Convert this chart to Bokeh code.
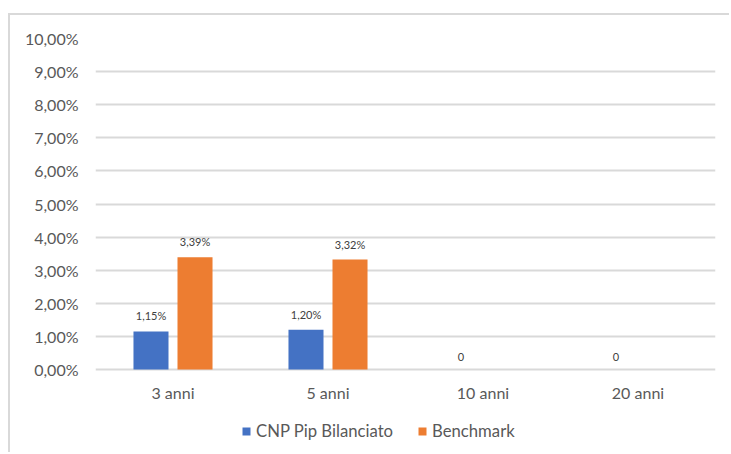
import math
from bokeh.plotting import figure
from bokeh.models import (ColumnDataSource, FactorRange, FixedTicker, CustomJSTickFormatter,
                          LabelSet, Legend, LegendItem, Range1d)
from bokeh.core.properties import value
from bokeh.transform import dodge
from bokeh.embed import file_html
from bokeh.resources import INLINE

categories = ["3 anni", "5 anni", "10 anni", "20 anni"]
cnp_values = [1.15, 1.20, 0.0, 0.0]
bench_values = [3.39, 3.32, float("nan"), float("nan")]
y_ticks = [0, 1, 2, 3, 4, 5, 6, 7, 8, 9, 10]
series_names = ["CNP Pip Bilanciato", "Benchmark"]


def fmt(v):
    if v is None or (isinstance(v, float) and math.isnan(v)):
        return ""
    if v == 0:
        return "0"
    return ("%.2f" % v).replace(".", ",") + "%"


src = ColumnDataSource(dict(
    cat=categories,
    cnp=cnp_values,
    bench=bench_values,
    cnp_lab=[fmt(v) for v in cnp_values],
    bench_lab=[fmt(v) for v in bench_values],
    zero=[0] * len(categories),
))

FONT = "Lato"
GRID = "#d9d9d9"
TXT = "#595959"

# frame: top at 10%, extends below 0% to hold category labels and legend
FRAME_H = 416
PX_PER_UNIT = 33.1
y_low = -(FRAME_H - 10 * PX_PER_UNIT) / PX_PER_UNIT

p = figure(x_range=FactorRange(*categories), y_range=Range1d(y_low, 10),
           width=721, height=439, output_backend="svg", toolbar_location=None,
           min_border_left=85, min_border_right=16, min_border_top=23, min_border_bottom=0)
p.styles = {"border-top": "2px solid #d9d9d9", "border-left": "2px solid #d9d9d9",
            "margin-top": "13px", "margin-left": "8px"}
p.outline_line_color = None
p.x_range.range_padding = 0
p.x_range.factor_padding = 0

off = 0.142
w = 0.226
r1 = p.vbar(x=dodge("cat", -off, range=p.x_range), top="cnp", width=w, bottom=0,
            source=src, fill_color="#4472C4", line_color=None)
r2 = p.vbar(x=dodge("cat", off, range=p.x_range), top="bench", width=w, bottom=0,
            source=src, fill_color="#ED7D31", line_color=None)

for col, lab, o in (("cnp", "cnp_lab", -off), ("bench", "bench_lab", off)):
    ls = LabelSet(x=dodge("cat", o, range=p.x_range), y=col, text=lab, source=src,
                  y_offset=9, text_align="center", text_baseline="bottom",
                  text_font=value(FONT), text_font_size=value("11px"), text_color="#404040")
    p.add_layout(ls)

# category labels under the 0% line
cat_labels = LabelSet(x="cat", y="zero", text="cat", source=src,
                      y_offset=-23, text_align="center", text_baseline="middle",
                      text_font=value(FONT), text_font_size=value("16px"), text_color=TXT)
p.add_layout(cat_labels)

p.yaxis.ticker = FixedTicker(ticks=y_ticks)
p.yaxis.formatter = CustomJSTickFormatter(code="return tick.toFixed(2).replace('.', ',') + '%';")
p.yaxis.axis_line_color = None
p.yaxis.major_tick_line_color = None
p.yaxis.minor_tick_line_color = None
p.yaxis.major_label_standoff = 11
p.yaxis.major_label_text_font = FONT
p.yaxis.major_label_text_font_size = "16px"
p.yaxis.major_label_text_color = TXT

p.xaxis.visible = False

p.xgrid.grid_line_color = None
p.ygrid.grid_line_color = GRID
p.ygrid.grid_line_width = 2
p.ygrid.ticker = FixedTicker(ticks=y_ticks)

legend = Legend(items=[LegendItem(label=series_names[0], renderers=[r1]),
                       LegendItem(label=series_names[1], renderers=[r2])],
                location=(146, 13), orientation="horizontal",
                padding=0, margin=0, spacing=24, label_standoff=5,
                glyph_width=10, glyph_height=10, label_height=16,
                label_text_font=FONT, label_text_font_size="16.7px", label_text_color=TXT,
                border_line_color=None, background_fill_alpha=0)
p.add_layout(legend, "center")

open("out.html", "w").write(file_html(p, INLINE))
